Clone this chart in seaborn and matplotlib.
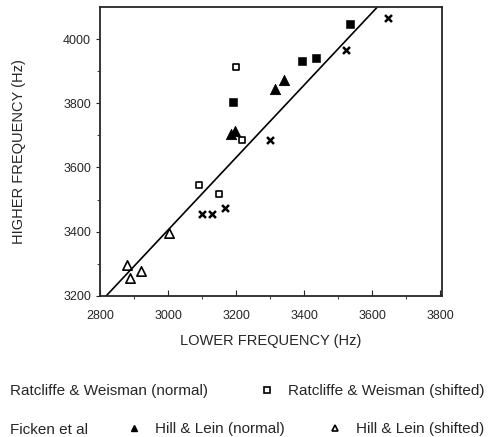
import matplotlib
matplotlib.use("Agg")
import matplotlib.pyplot as plt
from matplotlib.lines import Line2D
import seaborn as sns

sns.set_style("ticks")
plt.rcParams['font.family'] = ['Liberation Sans', 'DejaVu Sans']

# Ratcliffe & Weisman (normal)
rw_norm_x = [3533, 3392, 3434, 3191]
rw_norm_y = [4047, 3932, 3940, 3804]
# Ratcliffe & Weisman (shifted)
rw_shift_x = [3200, 3218, 3091, 3148]
rw_shift_y = [3913, 3687, 3545, 3516]
# Hill & Lein (normal)
hl_norm_x = [3313, 3341, 3185, 3195]
hl_norm_y = [3843, 3872, 3705, 3715]
# Hill & Lein (shifted)
hl_shift_x = [2878, 2888, 2920, 3001]
hl_shift_y = [3296, 3255, 3276, 3395]
# Ficken et al
ficken_x = [3645, 3523, 3300, 3098, 3128, 3167]
ficken_y = [4067, 3967, 3687, 3454, 3454, 3475]
# fitted line
line_x = [2818, 3613]
line_y = [3200, 4098]

fig = plt.figure(figsize=(5.03, 4.37), dpi=100)
ax = fig.add_axes([0.199, 0.323, 0.68, 0.661])

sns.lineplot(x=line_x, y=line_y, ax=ax, color='black', linewidth=1.2)
sns.scatterplot(x=rw_norm_x, y=rw_norm_y, ax=ax, marker='s', s=28,
                color='black', edgecolor='black')
sns.scatterplot(x=rw_shift_x, y=rw_shift_y, ax=ax, marker='s', s=24,
                facecolor='white', edgecolor='black', linewidth=1.2)
sns.scatterplot(x=hl_norm_x, y=hl_norm_y, ax=ax, marker='^', s=55,
                color='black', edgecolor='black')
sns.scatterplot(x=hl_shift_x, y=hl_shift_y, ax=ax, marker='^', s=45,
                facecolor='white', edgecolor='black', linewidth=1.2)
sns.scatterplot(x=ficken_x, y=ficken_y, ax=ax, marker='x', s=25,
                color='black', linewidth=1.8)

ax.set_xlim(2800, 3805)
ax.set_ylim(3200, 4100)
ax.set_xticks([2800, 3000, 3200, 3400, 3600, 3800])
ax.set_yticks([3200, 3400, 3600, 3800, 4000])
ax.set_xticks(range(2900, 3800, 200), minor=True)
ax.set_yticks(range(3300, 4100, 200), minor=True)
ax.tick_params(axis='x', direction='in', length=4, labelsize=9, pad=10)
ax.tick_params(axis='y', direction='out', length=3, labelsize=9)
ax.tick_params(which='minor', length=2)
for sp in ax.spines.values():
    sp.set_linewidth(1.3)
ax.set_xlabel("LOWER FREQUENCY (Hz)", fontsize=10.5, labelpad=9)
ax.set_ylabel("HIGHER FREQUENCY (Hz)", fontsize=10.5, labelpad=27)


def entry(label, handle, x, y):
    kw = dict(frameon=False, fontsize=11, borderpad=0, borderaxespad=0)
    if handle is None:
        handle = Line2D([], [], linestyle='none')
        kw.update(handlelength=0, handletextpad=0)
    else:
        kw.update(handlelength=1.0, handletextpad=0.9)
    fig.legend([handle], [label], loc='center left',
               bbox_to_anchor=(x / 503, 1 - y / 437), **kw)


entry("Ratcliffe & Weisman (normal)", None, 10, 391)
entry("Ratcliffe & Weisman (shifted)",
      Line2D([], [], marker='s', linestyle='none', markersize=4,
             markerfacecolor='white', markeredgecolor='black', markeredgewidth=1.2),
      259, 391)
entry("Ficken et al", None, 10, 430)
entry("Hill & Lein (normal)",
      Line2D([], [], marker='^', linestyle='none', markersize=5, color='black'),
      126, 429)
entry("Hill & Lein (shifted)",
      Line2D([], [], marker='^', linestyle='none', markersize=5,
             markerfacecolor='white', markeredgecolor='black', markeredgewidth=1.2),
      327, 429)

fig.savefig("out.png", dpi=100)
